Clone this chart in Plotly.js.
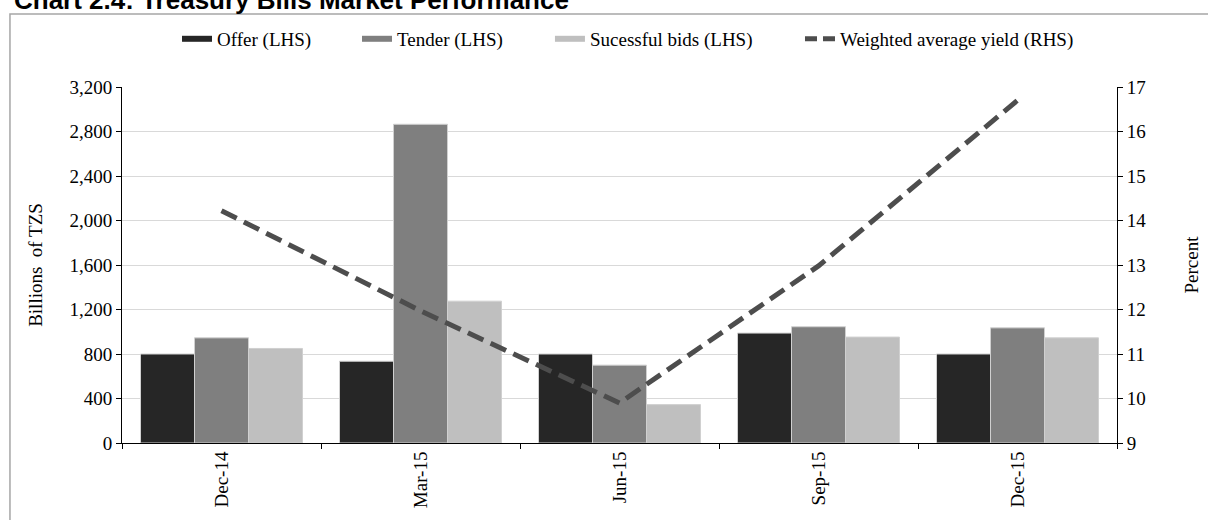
<!DOCTYPE html>
<html>
<head>
<meta charset="utf-8">
<script src="https://cdn.plot.ly/plotly-3.0.1.min.js"></script>
<style>html,body{margin:0;padding:0;background:#fff;}#chart{width:1208px;height:520px;}</style>
</head>
<body>
<div id="chart"></div>
<script>
const categories = ['Dec-14', 'Mar-15', 'Jun-15', 'Sep-15', 'Dec-15'];
const offer = [800, 735, 800, 988, 800];
const tender = [945, 2865, 700, 1045, 1035];
const successful = [850, 1275, 345, 952, 945];
const yieldPct = [14.22, 11.97, 9.9, 12.98, 16.7];
const seriesNames = ['Offer (LHS)', 'Tender (LHS)', 'Sucessful bids (LHS)', 'Weighted average yield (RHS)'];

const serif = 'Liberation Serif, Times New Roman, serif';
const FS = 19;
const cOffer = '#262626', cTender = '#7f7f7f', cSucc = '#bfbfbf', cLine = '#4d4d4d';
const barLine = {color: '#d0d0d0', width: 1};

const traces = [
  {type: 'bar', x: categories, y: offer, marker: {color: cOffer, line: barLine}, showlegend: false, name: seriesNames[0]},
  {type: 'bar', x: categories, y: tender, marker: {color: cTender, line: barLine}, showlegend: false, name: seriesNames[1]},
  {type: 'bar', x: categories, y: successful, marker: {color: cSucc, line: barLine}, showlegend: false, name: seriesNames[2]},
  {type: 'scatter', mode: 'lines', x: categories, y: yieldPct, yaxis: 'y2', showlegend: false,
   line: {color: cLine, width: 5, dash: '17px,8px'}, name: seriesNames[3]},
  // legend proxies
  {type: 'scatter', mode: 'lines', x: [categories[0]], y: [null], name: seriesNames[0], legend: 'legend',
   line: {color: cOffer, width: 6}, hoverinfo: 'skip'},
  {type: 'scatter', mode: 'lines', x: [categories[0]], y: [null], name: seriesNames[1], legend: 'legend2',
   line: {color: cTender, width: 6}, hoverinfo: 'skip'},
  {type: 'scatter', mode: 'lines', x: [categories[0]], y: [null], name: seriesNames[2], legend: 'legend3',
   line: {color: cSucc, width: 6}, hoverinfo: 'skip'},
  {type: 'scatter', mode: 'lines', x: [categories[0]], y: [null], name: seriesNames[3], legend: 'legend4', yaxis: 'y2',
   line: {color: cLine, width: 5, dash: '12px,6px'}, hoverinfo: 'skip'}
];

function leg(x) {
  return {x: x, xanchor: 'left', y: 1.135, yanchor: 'middle', orientation: 'h',
          bgcolor: 'rgba(0,0,0,0)', borderwidth: 0, font: {family: serif, size: FS, color: '#000'}};
}

const layout = {
  width: 1208, height: 520,
  margin: {l: 122, r: 91, t: 87, b: 77},
  paper_bgcolor: '#fff', plot_bgcolor: '#fff',
  font: {family: serif, size: FS, color: '#000'},
  title: {text: '<b>Chart 2.4: Treasury Bills Market Performance</b>',
          font: {family: 'Liberation Sans, Arial, sans-serif', size: 26, color: '#000'},
          x: 0.0116, xref: 'container', xanchor: 'left', y: 0.9993, yref: 'container', yanchor: 'middle'},
  barmode: 'group', bargap: 0.186, bargroupgap: 0,
  xaxis: {type: 'category', showline: true, linecolor: '#000', linewidth: 1,
          ticks: 'outside', tickson: 'boundaries', ticklen: 5, tickcolor: '#000',
          tickangle: -90, tickfont: {family: serif, size: FS}, showgrid: false, automargin: false},
  yaxis: {range: [0, 3200], dtick: 400, tickformat: ',', showline: true, linecolor: '#000', linewidth: 1,
          ticks: 'outside', ticklen: 5, tickcolor: '#000', gridcolor: '#d9d9d9', gridwidth: 1,
          zeroline: false, automargin: false, tickfont: {family: serif, size: FS},
          title: {text: 'Billions\u00a0 of TZS', font: {family: serif, size: FS}, standoff: 21}},
  yaxis2: {range: [9, 17], dtick: 1, overlaying: 'y', side: 'right', showline: true, linecolor: '#000', linewidth: 1,
           ticks: 'outside', ticklen: 5, tickcolor: '#000', showgrid: false, zeroline: false, automargin: false,
           tickfont: {family: serif, size: FS},
           title: {text: 'Percent', font: {family: serif, size: FS}, standoff: 39}},
  legend: leg(0.0553),
  legend2: leg(0.2362),
  legend3: leg(0.4301),
  legend4: leg(0.6814),
  shapes: [{type: 'rect', xref: 'paper', yref: 'paper', x0: -0.1126, x1: 1.095, y0: -0.25, y1: 1.205,
            line: {color: '#a6a6a6', width: 1.5}, fillcolor: 'rgba(0,0,0,0)', layer: 'below'}]
};

Plotly.newPlot('chart', traces, layout, {displayModeBar: false, staticPlot: true});
</script>
</body>
</html>
